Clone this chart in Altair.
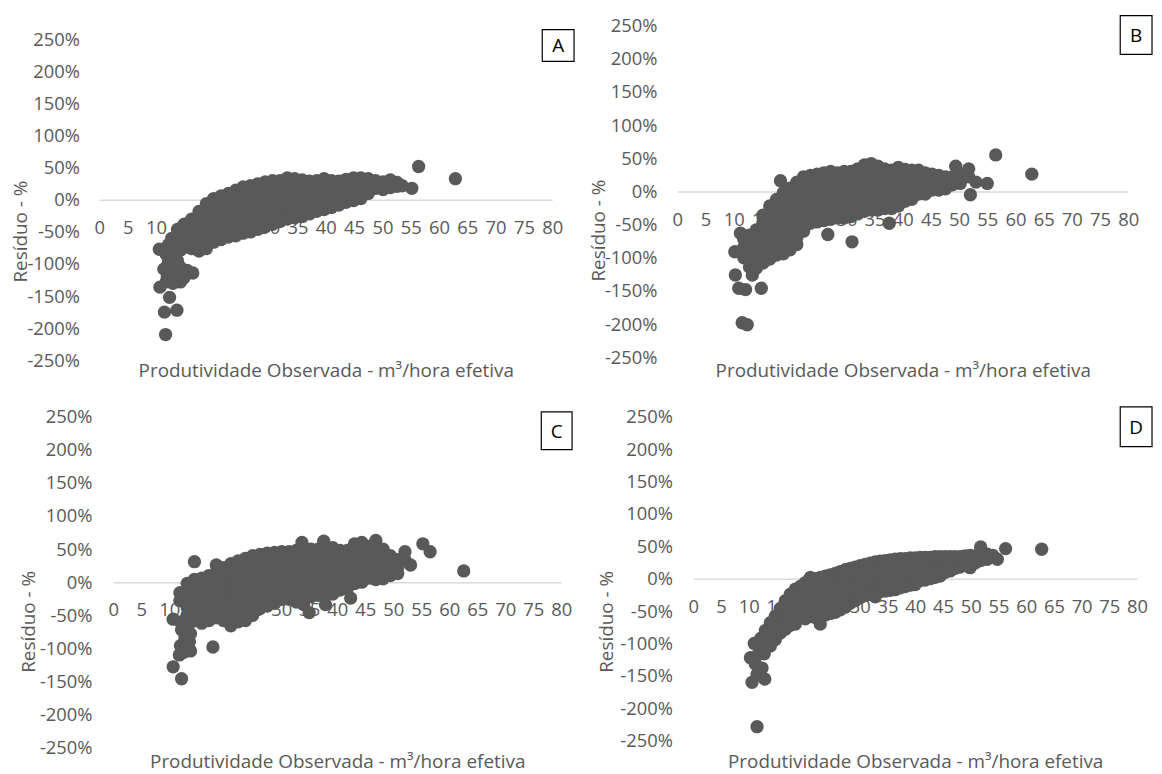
import altair as alt
import pandas as pd

# ---------------- data ----------------
X_TICKS = list(range(0, 81, 5))
Y_TICKS = list(range(-250, 251, 50))
X_TITLE = "Produtividade Observada  - m³/hora efetiva"
Y_TITLE = "Resíduo - %"

# Panel A: observed productivity (x) and residual % (y), grouped by x column
A_cx = [10.6, 10.7, 11.4, 11.5, 11.7, 11.8, 12.0, 12.2, 12.4, 12.8, 13.0, 13.4, 13.6, 13.7, 13.8,
        14.3, 14.4, 14.9, 15.0, 15.5, 16.3, 16.5, 17.6, 18.9, 20.2, 21.5, 22.8, 24.1, 25.4, 26.7,
        28.0, 29.3, 30.6, 31.9, 33.2, 34.5, 35.8, 37.1, 38.4, 39.7, 41.0, 42.3, 43.6, 44.9, 46.2,
        47.5, 48.8, 50.1, 51.4, 52.6, 53.5, 55.2, 56.4, 62.9]
A_cy = [[-77], [-136], [-108], [-175], [-210], [-85, -128], [-120], [-70, -97], [-152], [-60, -106],
        [-88, -130], [-118], [-70], [-172], [-46, -58, -95], [-105, -128], [-78], [-122],
        [-38, -50, -62, -72], [-110], [-30, -42, -54, -66, -76], [-114],
        [-18, -30, -42, -54, -66, -80],
        [-6, -18, -30, -42, -54, -66, -76],
        [2, -10, -22, -34, -46, -58, -66],
        [6, -6, -18, -30, -42, -54, -62],
        [10, -2, -14, -26, -38, -50, -58],
        [15, 3, -9, -21, -33, -45, -56],
        [20, 8, -4, -16, -28, -40, -52],
        [22, 10, -2, -14, -26, -38, -50],
        [25, 13, 1, -11, -23, -35, -46],
        [28, 16, 4, -8, -20, -32, -42],
        [30, 18, 6, -6, -18, -30, -38],
        [30, 18, 6, -6, -18, -30, -34],
        [34, 22, 10, -2, -14, -26, -30],
        [33, 21, 9, -3, -15, -28],
        [31, 19, 7, -5, -17, -26],
        [29, 17, 5, -7, -22],
        [30, 18, 6, -6, -18],
        [33, 21, 9, -3, -15],
        [30, 18, 6, -6, -12],
        [29, 17, 5, -8],
        [32, 20, 8, -4],
        [34, 22, 10, -1],
        [34, 22, 10, 2],
        [33, 21, 10],
        [30, 18],
        [28, 16],
        [31, 19],
        [27, 21],
        [22], [18], [52], [33]]

# Panel B
B_cx = [10.2, 10.3, 10.9, 11.2, 11.5, 11.8, 12.1, 12.4, 12.8, 13.3, 14.0, 14.9,
        15.2, 16.4, 17.6, 18.3, 18.8, 20.0, 21.2, 22.4, 23.6, 24.8, 26.0, 26.7, 27.2, 28.4,
        29.6, 30.8, 31.0, 32.0, 33.2, 34.4, 35.6, 36.8, 37.6, 38.0, 39.2, 40.4, 41.6, 42.8,
        44.0, 45.2, 46.4, 47.6, 48.8, 49.4, 50.2, 51.7, 52.0, 53.0, 55.0, 56.5, 62.9]
B_cy = [[-91], [-126], [-146], [-63], [-198], [-72, -84, -100], [-148], [-201],
        [-66, -78, -90, -102, -114], [-126], [-58, -70, -82, -94, -106, -116], [-146],
        [-36, -48, -60, -72, -84, -96, -108],
        [-22, -34, -46, -58, -70, -82, -94, -102],
        [-12, -24, -36, -48, -60, -72, -84, -96],
        [16],
        [-2, -14, -26, -38, -50, -62, -74, -86, -94],
        [5, -7, -19, -31, -43, -55, -67, -79, -88],
        [14, 2, -10, -22, -34, -46, -58, -70, -80],
        [22, 10, -2, -14, -26, -38, -50, -60],
        [24, 12, 0, -12, -24, -36, -48],
        [26, 14, 2, -10, -22, -34, -46],
        [28, 16, 4, -8, -20, -32, -44],
        [-65],
        [30, 18, 6, -6, -18, -30, -42],
        [28, 16, 4, -8, -20, -32, -40],
        [30, 18, 6, -6, -18, -30, -40],
        [30, 18, 6, -6, -18, -30, -38],
        [-76],
        [34, 22, 10, -2, -14, -26, -34],
        [40, 28, 16, 4, -8, -20, -30],
        [42, 30, 18, 6, -6, -18, -28],
        [38, 26, 14, 2, -10, -22, -28],
        [34, 22, 10, -2, -14, -26],
        [-48],
        [32, 20, 8, -4, -16, -26],
        [36, 24, 12, 0, -12, -22],
        [33, 21, 9, -3, -15],
        [32, 20, 8, -4, -12],
        [32, 20, 8, -4],
        [28, 16, 4, -4],
        [26, 14, 2],
        [24, 12, 2],
        [22, 10, 4],
        [22, 10],
        [38],
        [24, 12],
        [34, 22],
        [-5], [14], [12], [55], [26]]

# Panel C
C_cx = [10.7, 11.8, 11.9, 12.0, 12.2, 12.6, 12.8, 13.2, 13.4, 13.6, 13.8, 14.0, 14.5, 15.8, 17.1,
        17.8, 18.4, 19.7, 21.0, 22.3, 23.6, 24.9, 26.2, 27.5, 28.8, 30.1, 31.4, 32.7, 33.7, 34.0,
        35.0, 35.3, 36.6, 37.6, 37.9, 39.2, 40.5, 41.8, 42.4, 43.1, 44.4, 45.7, 46.9, 48.2, 49.5,
        50.8, 52.1, 53.1, 55.3, 56.6, 62.6]
C_cy = [[-56, -128], [-110], [-16, -28], [-60, -96], [-72, -146], [-106], [-84],
        [-2, -14, -26, -38, -50, -68], [-98], [-90], [-78, -104], [-60],
        [31, 4, -8, -20, -32, -44],
        [6, -6, -18, -30, -42, -54, -62],
        [10, -2, -14, -26, -38, -50, -58],
        [-98],
        [26, 14, 2, -10, -22, -34, -46, -54],
        [22, 10, -2, -14, -26, -38, -50, -58],
        [28, 16, 4, -8, -20, -32, -44, -56, -66],
        [32, 20, 8, -4, -16, -28, -40, -52, -60],
        [36, 24, 12, 0, -12, -24, -36, -48, -58],
        [40, 28, 16, 4, -8, -20, -32, -44, -50],
        [42, 30, 18, 6, -6, -18, -30, -40],
        [44, 32, 20, 8, -4, -16, -28, -36],
        [45, 33, 21, 9, -3, -15, -27, -32],
        [46, 34, 22, 10, -2, -14, -26],
        [46, 34, 22, 10, -2, -14, -26],
        [48, 36, 24, 12, 0, -12, -24, -30],
        [60],
        [50, 38, 26, 14, 2, -10, -22, -34],
        [-46],
        [50, 38, 26, 14, 2, -10, -22],
        [50, 38, 26, 14, 2, -10, -20],
        [62],
        [52, 40, 28, 16, 4, -8, -20, -34],
        [52, 40, 28, 16, 4, -8, -18],
        [48, 36, 24, 12, 0, -12],
        [48, 36, 24, 12, 0, -10],
        [-24],
        [58, 46, 34, 22, 10, -2],
        [60, 48, 36, 24, 12, 0],
        [54, 42, 30, 18, 6],
        [63, 51, 39, 27, 15, 4],
        [50, 38, 26, 14, 5],
        [40, 28, 16, 10],
        [34, 22, 13],
        [46, 34],
        [26], [58], [46], [17]]

# Panel D
D_cx = [10.3, 10.6, 11.0, 11.2, 11.5, 11.6, 12.2, 12.4, 12.8, 12.9, 13.0, 13.9, 14.8, 15.7, 16.6,
        17.5, 18.4, 19.3, 20.2, 21.1, 22.0, 22.9, 23.8, 24.7, 25.6, 26.5, 27.4, 28.3, 29.2, 30.1,
        31.0, 31.9, 32.8, 33.7, 34.6, 35.5, 36.4, 37.3, 38.2, 39.1, 40.0, 40.9, 41.8, 42.7, 43.6,
        44.5, 45.4, 46.3, 47.2, 48.1, 49.0, 49.9, 50.8, 51.8, 53.0, 54.0, 54.8, 56.3, 62.8]
D_cy = [[-122], [-160], [-100], [-132], [-148, -228.6], [-118], [-92, -104], [-138], [-116], [-155],
        [-80, -92, -104],
        [-68, -80, -92, -104],
        [-58, -70, -82, -94],
        [-46, -58, -70, -84],
        [-34, -46, -58, -70, -78],
        [-24, -36, -48, -60, -72],
        [-16, -28, -40, -52, -64, -70],
        [-12, -24, -36, -48, -60],
        [-6, -18, -30, -42, -54, -62],
        [2, -10, -22, -34, -46, -58],
        [0, -12, -24, -36, -48, -60],
        [2, -10, -22, -34, -46, -58, -70],
        [4, -8, -20, -32, -44, -56],
        [6, -6, -18, -30, -42, -54],
        [8, -4, -16, -28, -40, -52],
        [11, -1, -13, -25, -37, -48],
        [14, 2, -10, -22, -34, -44],
        [16, 4, -8, -20, -32, -38],
        [18, 6, -6, -18, -30, -34],
        [20, 8, -4, -16, -29],
        [22, 10, -2, -14, -26],
        [24, 12, 0, -12, -24],
        [26, 14, 2, -10, -22, -28],
        [27, 15, 3, -9, -20],
        [28, 16, 4, -8, -19],
        [29, 17, 5, -7, -18],
        [30, 18, 6, -6, -17],
        [31, 19, 7, -5, -14],
        [31, 19, 7, -5, -12],
        [32, 20, 8, -4, -10],
        [32, 20, 8, -4, -9],
        [33, 21, 9, -3],
        [33, 21, 9, -2],
        [33, 21, 9, 0],
        [34, 22, 10, 2],
        [34, 22, 10, 4],
        [34, 22, 10],
        [34, 22, 12],
        [34, 24, 16],
        [34, 22, 18],
        [35, 23],
        [36, 24, 17],
        [35, 24],
        [49, 36, 28],
        [38, 30],
        [36], [30], [46.5], [45.5]]

# ---------------- layout and style ----------------
FONT = "Open Sans"
TXT = "#595959"
MARK = "#595959"
ZERO = "#d9d9d9"
LFS = 18.5    # tick label size
TFS = 19      # axis title size
CELL_W, CELL_H = 577, 384

# page positions of each panel (plot rectangle, titles, letter box)
LAYOUT = {
    "A": dict(ox=8, oy=8, left=100, top=37, W=456, H=323, ylp=20,
              ytitle=(20.5, 230), xtitle_y=370, box=(546, 578, 27, 59)),
    "B": dict(ox=585, oy=8, left=682, top=23, W=454, H=334, ylp=20.5,
              ytitle=(603, 229), xtitle_y=370, box=(1128, 1160, 13, 52)),
    "C": dict(ox=8, oy=392, left=114, top=417, W=451, H=333, ylp=21.4,
              ytitle=(29, 623), xtitle_y=764, box=(545, 576, 412, 450)),
    "D": dict(ox=585, oy=392, left=698, top=417, W=447, H=326, ylp=21,
              ytitle=(611, 623), xtitle_y=764, box=(1128, 1160, 407, 447)),
}


def panel(key, cx, cy):
    L = LAYOUT[key]
    xs, ys = [], []
    for x, col in zip(cx, cy):
        for y in col:
            xs.append(x)
            ys.append(y)
    df = pd.DataFrame({"x": xs, "y": ys})

    ox, oy = L["ox"], L["oy"]
    rx0, rx1 = L["left"] - ox, L["left"] + L["W"] - ox
    ry_top, ry_bot = L["top"] - oy, L["top"] + L["H"] - oy
    zero = (ry_top + ry_bot) / 2

    xaxis = alt.Axis(values=X_TICKS, title=X_TITLE, orient="bottom", offset=-(CELL_H - zero),
                     domain=True, domainColor=ZERO, domainWidth=1.5, ticks=False, tickSize=0,
                     grid=False, labelFont=FONT, labelFontSize=LFS, labelColor=TXT,
                     labelPadding=19, labelFlush=False, labelOverlap=False,
                     titleFont=FONT, titleFontSize=TFS, titleColor=TXT, titleFontWeight="normal",
                     titleX=(rx0 + rx1) / 2, titleY=L["xtitle_y"] - oy - zero,
                     titleBaseline="middle", titleAlign="center")
    yaxis = alt.Axis(values=Y_TICKS, labelExpr="datum.value + '%'", title=Y_TITLE,
                     orient="left", offset=-rx0,
                     domain=False, ticks=False, tickSize=0, grid=False,
                     labelFont=FONT, labelFontSize=LFS, labelColor=TXT, labelPadding=L["ylp"],
                     labelOverlap=False, labelFlush=False,
                     titleFont=FONT, titleFontSize=TFS, titleColor=TXT, titleFontWeight="normal",
                     titleX=L["ytitle"][0] - L["left"], titleY=L["ytitle"][1] - oy,
                     titleAngle=270, titleBaseline="middle", titleAlign="center")

    pts = alt.Chart(df).mark_circle(size=180, color=MARK, opacity=1).encode(
        x=alt.X("x:Q", scale=alt.Scale(domain=[0, 80], range=[rx0, rx1], nice=False, zero=False),
                axis=xaxis),
        y=alt.Y("y:Q", scale=alt.Scale(domain=[-250, 250], range=[ry_bot, ry_top], nice=False),
                axis=yaxis),
    )
    one = pd.DataFrame({"k": [0]})
    b = L["box"]
    bx0, bx1, by0, by1 = b[0] - ox, b[1] - ox, b[2] - oy, b[3] - oy
    rect = alt.Chart(one).mark_rect(fill="white", stroke="black", strokeWidth=1.2).encode(
        x=alt.value(bx0), x2=alt.value(bx1), y=alt.value(by0), y2=alt.value(by1))
    lab = alt.Chart(one).mark_text(text=key, font=FONT, fontSize=19, color="black",
                                   align="center", baseline="middle").encode(
        x=alt.value((bx0 + bx1) / 2), y=alt.value((by0 + by1) / 2 + 1))
    return alt.layer(pts, rect, lab).properties(width=CELL_W, height=CELL_H)


chart = (alt.concat(panel("A", A_cx, A_cy), panel("B", B_cx, B_cy),
                    panel("C", C_cx, C_cy), panel("D", D_cx, D_cy),
                    columns=2, spacing=0)
         .properties(padding=0, background="white")
         .configure_view(stroke=None))

chart.save("out.html", embed_options={"renderer": "svg", "actions": False})
